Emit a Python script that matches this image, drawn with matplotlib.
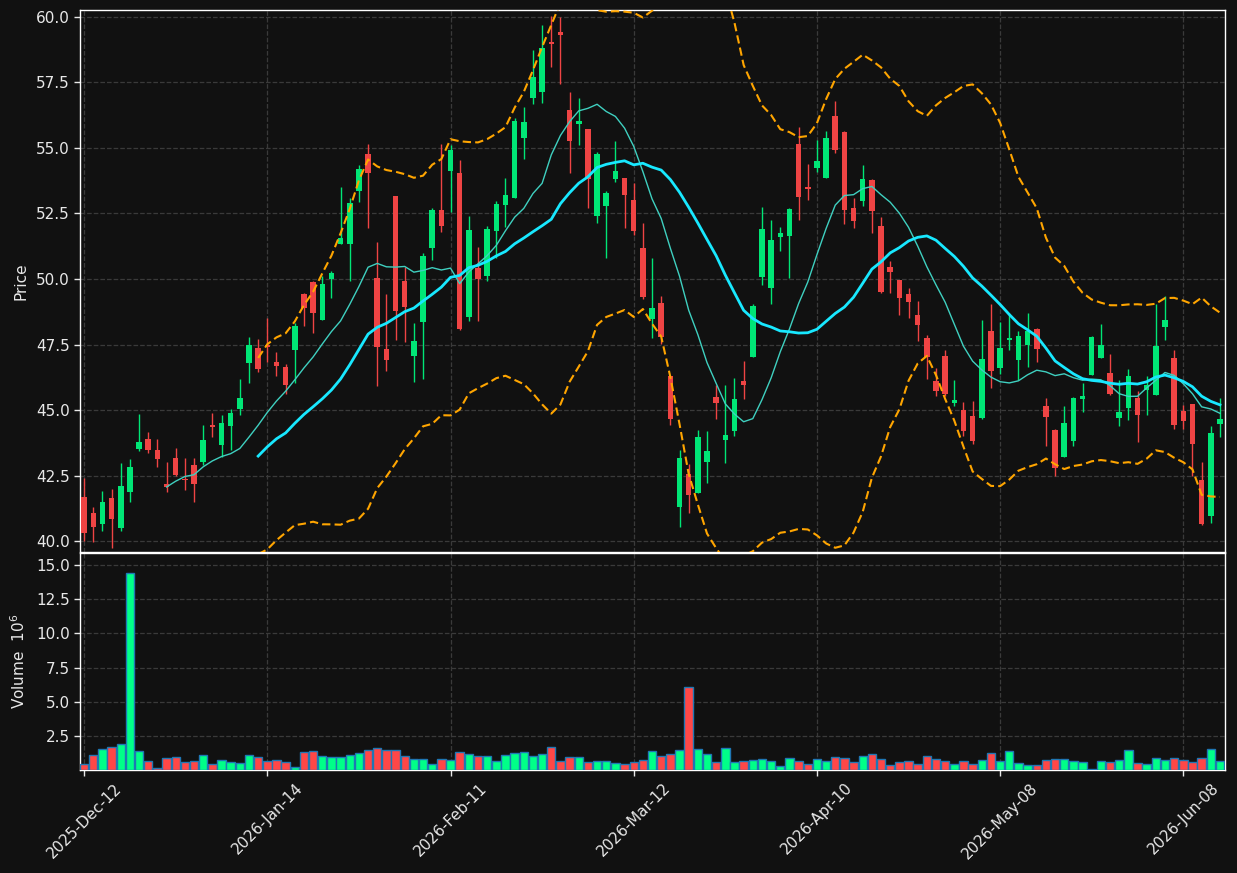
import numpy as np
import pandas as pd
import matplotlib
matplotlib.use("Agg")
import matplotlib.pyplot as plt

# ---------------- data ----------------
start_date = "2025-12-12"
holidays = ["2025-12-25", "2025-12-26", "2026-01-01", "2026-02-16",
            "2026-04-03", "2026-05-25"]

opens = [41.68, 41.08, 40.67, 41.65, 40.52, 41.88, 43.52, 43.90, 43.48, 42.19,
         43.18, 42.37, 42.91, 43.02, 44.43, 43.67, 44.41, 45.06, 46.81, 47.37,
         47.50, 46.84, 46.64, 47.29, 49.43, 49.89, 48.44, 50.02, 51.34, 51.34,
         53.36, 54.77, 50.05, 47.32, 53.17, 49.91, 47.07, 48.37, 51.17, 52.62,
         54.13, 54.04, 48.57, 50.43, 50.10, 51.85, 52.84, 53.10, 55.36, 56.89,
         57.15, 59.04, 59.41, 56.44, 55.93, 55.72, 52.42, 52.80, 53.83, 53.84,
         53.01, 51.19, 48.49, 49.08, 46.32, 41.32, 42.57, 41.85, 43.03, 45.50,
         43.88, 44.22, 46.12, 47.04, 50.09, 49.64, 51.60, 51.65, 55.15, 53.51,
         54.24, 53.86, 56.22, 55.61, 52.71, 52.99, 53.78, 52.02, 50.47, 49.95,
         49.43, 48.64, 47.74, 46.12, 47.07, 45.26, 45.00, 44.77, 44.71, 48.00,
         46.62, 47.67, 46.92, 47.47, 48.10, 45.17, 44.25, 43.22, 43.82, 45.43,
         46.35, 47.00, 46.42, 44.71, 45.10, 45.47, 45.76, 45.56, 48.16, 46.97,
         44.97, 45.23, 42.33, 40.98, 44.48]
highs = [42.40, 41.30, 41.91, 41.99, 42.97, 43.13, 44.84, 44.17, 43.89, 43.02,
         43.56, 43.16, 43.16, 44.42, 44.88, 44.83, 45.05, 46.18, 47.78, 47.70,
         48.50, 47.21, 46.75, 48.33, 49.45, 49.91, 50.11, 50.31, 53.50, 53.08,
         54.33, 55.15, 51.40, 49.43, 53.17, 50.44, 48.33, 51.01, 52.72, 55.15,
         55.12, 54.53, 52.42, 51.23, 52.02, 52.99, 53.87, 56.15, 56.57, 58.75,
         59.67, 60.03, 60.00, 57.13, 56.89, 55.74, 54.86, 53.36, 55.25, 53.87,
         53.67, 52.12, 50.80, 49.35, 46.32, 43.49, 42.93, 44.25, 44.21, 45.96,
         45.96, 46.22, 46.87, 49.03, 52.75, 52.26, 51.98, 52.71, 55.81, 54.40,
         55.32, 55.65, 56.80, 55.65, 53.10, 54.33, 53.80, 52.38, 50.68, 49.98,
         49.65, 49.15, 47.87, 46.62, 47.28, 46.16, 45.30, 45.34, 48.44, 49.03,
         48.37, 48.69, 48.03, 48.69, 48.13, 45.47, 44.27, 45.17, 45.52, 46.03,
         47.84, 48.29, 47.15, 46.16, 46.55, 45.73, 46.29, 49.06, 49.35, 47.30,
         45.21, 45.23, 43.02, 44.38, 45.47]
lows = [40.02, 39.96, 40.38, 39.73, 40.38, 41.51, 43.46, 43.38, 42.82, 41.86,
        42.47, 41.97, 41.49, 42.92, 43.99, 43.23, 43.48, 44.81, 46.03, 46.45,
        46.85, 46.32, 45.63, 46.03, 48.20, 47.94, 48.44, 49.29, 51.34, 49.94,
        52.92, 51.96, 45.93, 46.51, 47.67, 47.61, 46.09, 46.18, 50.73, 51.79,
        52.55, 48.07, 48.40, 48.40, 49.91, 50.80, 51.98, 53.10, 54.59, 56.68,
        56.70, 58.09, 57.43, 54.04, 55.10, 52.72, 52.12, 50.82, 53.70, 51.96,
        51.69, 49.23, 47.74, 47.54, 44.44, 40.55, 41.06, 41.85, 42.24, 44.68,
        42.99, 44.01, 45.41, 47.04, 49.78, 49.06, 51.06, 50.05, 52.26, 53.03,
        54.07, 53.86, 54.79, 52.09, 51.96, 52.78, 51.76, 49.48, 49.48, 48.62,
        48.51, 47.65, 46.18, 45.54, 45.54, 45.17, 44.01, 43.69, 44.68, 45.83,
        46.39, 47.30, 46.16, 46.64, 46.84, 43.65, 42.47, 43.22, 43.63, 44.94,
        46.35, 46.97, 45.56, 44.38, 44.64, 43.78, 44.81, 45.56, 47.67, 44.28,
        44.27, 42.47, 40.62, 40.69, 43.98]
closes = [40.33, 40.56, 41.50, 40.86, 42.12, 42.85, 43.79, 43.48, 43.15, 42.06,
          42.53, 42.35, 42.20, 43.86, 44.37, 44.51, 44.89, 45.47, 47.49, 46.58,
          47.42, 46.68, 45.96, 48.21, 48.90, 48.70, 49.81, 50.22, 51.56, 52.91,
          54.20, 54.04, 47.41, 46.91, 48.79, 48.95, 47.63, 50.88, 52.62, 52.02,
          54.92, 48.11, 51.88, 50.02, 51.91, 52.87, 53.20, 56.03, 55.99, 57.69,
          58.81, 58.95, 59.29, 55.28, 56.03, 53.83, 54.75, 53.28, 54.11, 53.22,
          51.85, 49.32, 48.90, 47.80, 44.68, 43.18, 41.78, 43.98, 43.44, 45.27,
          44.05, 45.43, 45.96, 48.99, 51.89, 51.50, 51.76, 52.66, 53.14, 53.45,
          54.50, 55.39, 54.92, 52.64, 52.22, 53.80, 52.58, 49.52, 50.28, 49.26,
          49.12, 48.23, 47.04, 45.72, 45.60, 45.39, 44.21, 43.82, 46.95, 46.51,
          47.37, 47.77, 47.84, 48.03, 47.34, 44.75, 42.79, 44.51, 45.47, 45.54,
          47.80, 47.50, 45.63, 44.93, 46.32, 44.81, 45.96, 47.45, 48.42, 44.44,
          44.60, 43.69, 40.65, 44.11, 44.67]
volumes_m = [0.49, 1.14, 1.56, 1.73, 1.95, 14.42, 1.41, 0.68, 0.19, 0.92,
             1.00, 0.63, 0.70, 1.14, 0.49, 0.78, 0.63, 0.56, 1.14, 1.00,
             0.70, 0.78, 0.63, 0.27, 1.36, 1.43, 1.07, 1.00, 1.00, 1.14,
             1.29, 1.51, 1.65, 1.51, 1.51, 1.07, 0.85, 0.85, 0.49, 0.85,
             0.78, 1.36, 1.22, 1.07, 1.07, 0.68, 1.14, 1.29, 1.36, 1.07,
             1.22, 1.73, 0.70, 1.00, 1.00, 0.63, 0.70, 0.70, 0.56, 0.49,
             0.63, 0.78, 1.43, 1.07, 1.22, 1.51, 6.10, 1.58, 1.22, 0.63,
             1.65, 0.63, 0.70, 0.78, 0.85, 0.70, 0.34, 0.92, 0.70, 0.49,
             0.85, 0.70, 1.00, 0.92, 0.63, 1.07, 1.22, 0.85, 0.41, 0.63,
             0.70, 0.49, 1.07, 0.85, 0.70, 0.49, 0.70, 0.49, 0.78, 1.29,
             0.70, 1.43, 0.56, 0.41, 0.41, 0.78, 0.85, 0.85, 0.70, 0.63,
             0.12, 0.70, 0.63, 0.78, 1.51, 0.56, 0.49, 0.92, 0.78, 0.92,
             0.78, 0.63, 0.92, 1.58, 0.70]
mav_periods = [10, 20]
bb_period = 20
bb_k = 2.0
tick_every = 20

# ---------------- derived ----------------
n = len(closes)
dates = pd.bdate_range(start=start_date, periods=n, freq="C", holidays=holidays)
df = pd.DataFrame({"Open": opens, "High": highs, "Low": lows,
                   "Close": closes, "Volume": volumes_m}, index=dates)
x = np.arange(n)
o = df["Open"].values; h = df["High"].values
l = df["Low"].values; c = df["Close"].values
up = c >= o

UP_C = "#00e676"; DN_C = "#ef4444"
VUP_C = "#00ff88"; VDN_C = "#ff4747"
BG = "#111111"
GRID_C = "#3a3a3a"
TXT = "#e8e8e8"

fig = plt.figure(figsize=(12.37, 8.73), dpi=100, facecolor=BG)
ax = fig.add_axes([80/1237, 1-552/873, 1145/1237, 542/873], facecolor=BG)
axv = fig.add_axes([80/1237, 1-770/873, 1145/1237, 217/873], facecolor=BG, sharex=ax)

# candles
ccol = np.where(up, UP_C, DN_C)
ax.vlines(x, l, h, colors=ccol, linewidth=1.0, zorder=3)
body_bottom = np.minimum(o, c)
body_h = np.maximum(np.abs(c - o), 0.02)
ax.bar(x, body_h, bottom=body_bottom, width=0.6, color=ccol, linewidth=0, zorder=4)

# moving averages
ma10 = df["Close"].rolling(mav_periods[0]).mean()
ma20 = df["Close"].rolling(mav_periods[1]).mean()
ax.plot(x, ma10.values, color="#3fd0c0", linewidth=1.0, zorder=5)
ax.plot(x, ma20.values, color="#18e8ff", linewidth=2.0, zorder=5)

# Bollinger bands
mid = df["Close"].rolling(bb_period).mean()
sd = df["Close"].rolling(bb_period).std(ddof=0)
ax.plot(x, (mid + bb_k*sd).values, color="#ffa500", linewidth=1.5,
        linestyle=(0, (4, 2)), zorder=5)
ax.plot(x, (mid - bb_k*sd).values, color="#ffa500", linewidth=1.5,
        linestyle=(0, (4, 2)), zorder=5)

# volume
vcol = np.where(up, VUP_C, VDN_C)
v = df["Volume"].values
axv.bar(x, v, width=0.92, color=vcol, edgecolor="#1f77b4", linewidth=1.0, zorder=3)

# limits
ax.set_xlim(-0.45, n - 0.45)
ax.set_ylim(39.59, 60.26)
axv.set_ylim(0.3*np.min(v), 1.1*np.max(v))

# ticks
ticks = list(range(0, n, tick_every))
labels = [dates[i].strftime("%Y-%b-%d") for i in ticks]
axv.set_xticks(ticks)
axv.set_xticklabels(labels, rotation=45, ha="center")
plt.setp(ax.get_xticklabels(), visible=False)
ax.tick_params(axis="x", length=0)

ax.set_yticks(np.arange(40.0, 60.01, 2.5))
ax.set_yticklabels([f"{t:.1f}" for t in np.arange(40.0, 60.01, 2.5)])
axv.set_yticks(np.arange(2.5, 15.01, 2.5))
axv.set_yticklabels([f"{t:.1f}" for t in np.arange(2.5, 15.01, 2.5)])

for a in (ax, axv):
    a.tick_params(colors=TXT, labelsize=11, width=1.0, length=4)
    for s in a.spines.values():
        s.set_color("white")
        s.set_linewidth(1.0)
    a.grid(True, color=GRID_C, linestyle="--", linewidth=0.9, zorder=0)
    a.set_axisbelow(True)

ax.set_ylabel("Price", color=TXT, fontsize=11)
axv.set_ylabel("Volume  $10^{6}$", color=TXT, fontsize=11)
ax.yaxis.set_label_coords(-0.045, 0.5)
axv.yaxis.set_label_coords(-0.045, 0.5)

fig.savefig("out.png", dpi=100, facecolor=BG)
